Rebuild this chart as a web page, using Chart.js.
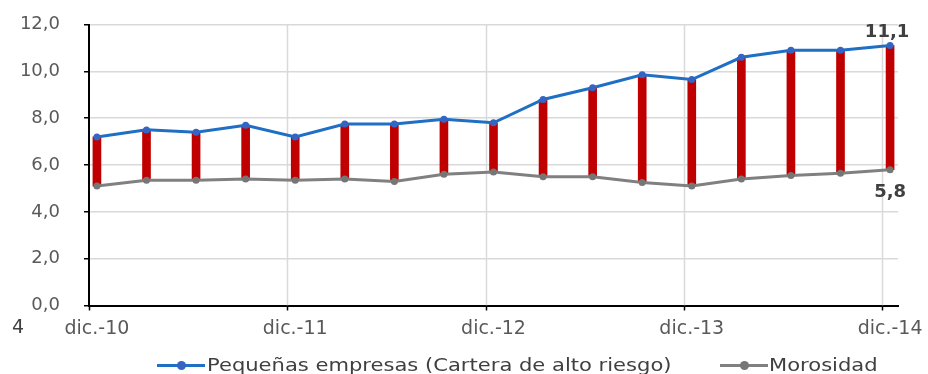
<!DOCTYPE html>
<html>
<head>
<meta charset="utf-8">
<script src="https://cdn.jsdelivr.net/npm/chart.js@4"></script>
<style>
  body { margin: 0; background: #fff; font-family: "DejaVu Sans", sans-serif; }
  #wrap { position: relative; width: 928px; height: 374px; }
  .txt { position: absolute; color: #404040; white-space: nowrap; transform-origin: left center; }
  .leg { transform: scaleX(1.17); }
  .sample { position: absolute; width: 48px; height: 3px; }
  .sample i { position: absolute; left: 20px; top: -3px; width: 9px; height: 9px; border-radius: 50%; }
</style>
</head>
<body>
<div id="wrap">
  <canvas id="myChart" width="928" height="374"></canvas>
  <div class="txt" style="left:12px; top:315px; font-size:19px;">4</div>
  <div class="sample" style="left:157px; top:364px; background:#1f6fc4;"><i style="background:#3564c2;"></i></div>
  <div class="txt leg" id="leg1" style="left:207px; top:354px; font-size:18px;"></div>
  <div class="sample" style="left:720px; top:364px; background:#808080;"><i style="background:#767676;"></i></div>
  <div class="txt leg" id="leg2" style="left:769px; top:354px; font-size:18px;"></div>
</div>
<script>
    // quarterly points, dic.-10 .. dic.-14
    const quarters = [0, 1, 2, 3, 4, 5, 6, 7, 8, 9, 10, 11, 12, 13, 14, 15, 16]
    const tickIdx = [0, 4, 8, 12, 16]
    const tickLabels = ["dic.-10", "dic.-11", "dic.-12", "dic.-13", "dic.-14"]
    const seriesNames = ["Pequeñas empresas (Cartera de alto riesgo)", "Morosidad"]
    const pequenas = [7.2, 7.5, 7.4, 7.7, 7.2, 7.75, 7.75, 7.95, 7.8, 8.8, 9.3, 9.85, 9.65, 10.6, 10.9, 10.9, 11.1]
    const morosidad = [5.1, 5.35, 5.35, 5.4, 5.35, 5.4, 5.3, 5.6, 5.7, 5.5, 5.5, 5.25, 5.1, 5.4, 5.55, 5.65, 5.8]

    document.getElementById("leg1").textContent = seriesNames[0]
    document.getElementById("leg2").textContent = seriesNames[1]

    const fmt = v => v.toFixed(1).replace(".", ",")
    const gridShift = -0.16

    // keep the plot box where the original has it
    const noPad = s => { s.paddingTop = 0; s.paddingBottom = 0; s.paddingLeft = 0; s.paddingRight = 0 }

    // vertical grid lines sit a little left of the yearly points in the original
    const xGrid = {
      id: "xGrid",
      beforeDatasetsDraw(chart) {
        const { ctx, chartArea: a, scales: { x } } = chart
        ctx.save()
        tickIdx.forEach(v => {
          const px = Math.round(x.getPixelForValue(v + gridShift)) + 0.5
          if (px > a.left + 2) {
            ctx.strokeStyle = "#d9d9d9"
            ctx.lineWidth = 1.5
            ctx.beginPath(); ctx.moveTo(px, a.top); ctx.lineTo(px, a.bottom); ctx.stroke()
          }
          ctx.strokeStyle = "#000"
          ctx.lineWidth = 1.5
          ctx.beginPath(); ctx.moveTo(px, a.bottom); ctx.lineTo(px, a.bottom + 5); ctx.stroke()
        })
        ctx.restore()
      }
    }

    // last-value labels
    const endLabels = {
      id: "endLabels",
      afterDatasetsDraw(chart) {
        const ctx = chart.ctx
        const last = quarters.length - 1
        const pTop = chart.getDatasetMeta(1).data[last]
        const pBot = chart.getDatasetMeta(2).data[last]
        ctx.save()
        ctx.font = "bold 18px 'DejaVu Sans'"
        ctx.fillStyle = "#404040"
        ctx.textAlign = "center"
        ctx.textBaseline = "middle"
        ctx.fillText(fmt(pequenas[last]), pTop.x - 3, pTop.y - 13)
        ctx.fillText(fmt(morosidad[last]), pBot.x, pBot.y + 23)
        ctx.restore()
      }
    }

    const ctx = document.getElementById("myChart").getContext("2d")
    const chart = new Chart(ctx, {
      type: "line",
      data: {
        datasets: [{
          type: "bar",
          label: "rango",
          data: quarters.map(i => ({ x: i, y: [morosidad[i], pequenas[i]] })),
          backgroundColor: "#c00000",
          borderWidth: 0,
          barThickness: 8,
          order: 3
        }, {
          label: seriesNames[0],
          data: quarters.map(i => ({ x: i, y: pequenas[i] })),
          borderColor: "#1f6fc4",
          backgroundColor: "#3564c2",
          borderWidth: 3,
          pointRadius: 3.5,
          pointBorderWidth: 0,
          tension: 0,
          order: 1
        }, {
          label: seriesNames[1],
          data: quarters.map(i => ({ x: i, y: morosidad[i] })),
          borderColor: "#808080",
          backgroundColor: "#767676",
          borderWidth: 3,
          pointRadius: 3.5,
          pointBorderWidth: 0,
          tension: 0,
          order: 2
        }]
      },
      options: {
        responsive: false,
        animation: false,
        layout: { autoPadding: false, padding: { top: 24.5, right: 30, left: 0, bottom: 0 } },
        plugins: { legend: { display: false }, tooltip: { enabled: false } },
        scales: {
          x: {
            type: "linear",
            offset: false,
            min: -0.16,
            max: 16.16,
            afterBuildTicks: s => { s.ticks = tickIdx.map(v => ({ value: v })) },
            afterFit: s => { s.height = 68.5; noPad(s) },
            ticks: {
              callback: v => tickLabels[tickIdx.indexOf(v)],
              color: "#595959",
              font: { family: "DejaVu Sans", size: 19 },
              padding: 12,
              maxRotation: 0,
              autoSkip: false
            },
            grid: { display: false, drawTicks: false },
            border: { color: "#000", width: 2 }
          },
          y: {
            min: 0,
            max: 12,
            afterFit: s => { s.width = 89; noPad(s) },
            ticks: {
              stepSize: 2,
              callback: v => fmt(v),
              color: "#595959",
              font: { family: "DejaVu Sans", size: 18 },
              padding: 24
            },
            grid: { color: "#d9d9d9", lineWidth: 1.5, tickColor: "#000", tickLength: 5 },
            border: { color: "#000", width: 2 }
          }
        }
      },
      plugins: [xGrid, endLabels]
    })
</script>
</body>
</html>
